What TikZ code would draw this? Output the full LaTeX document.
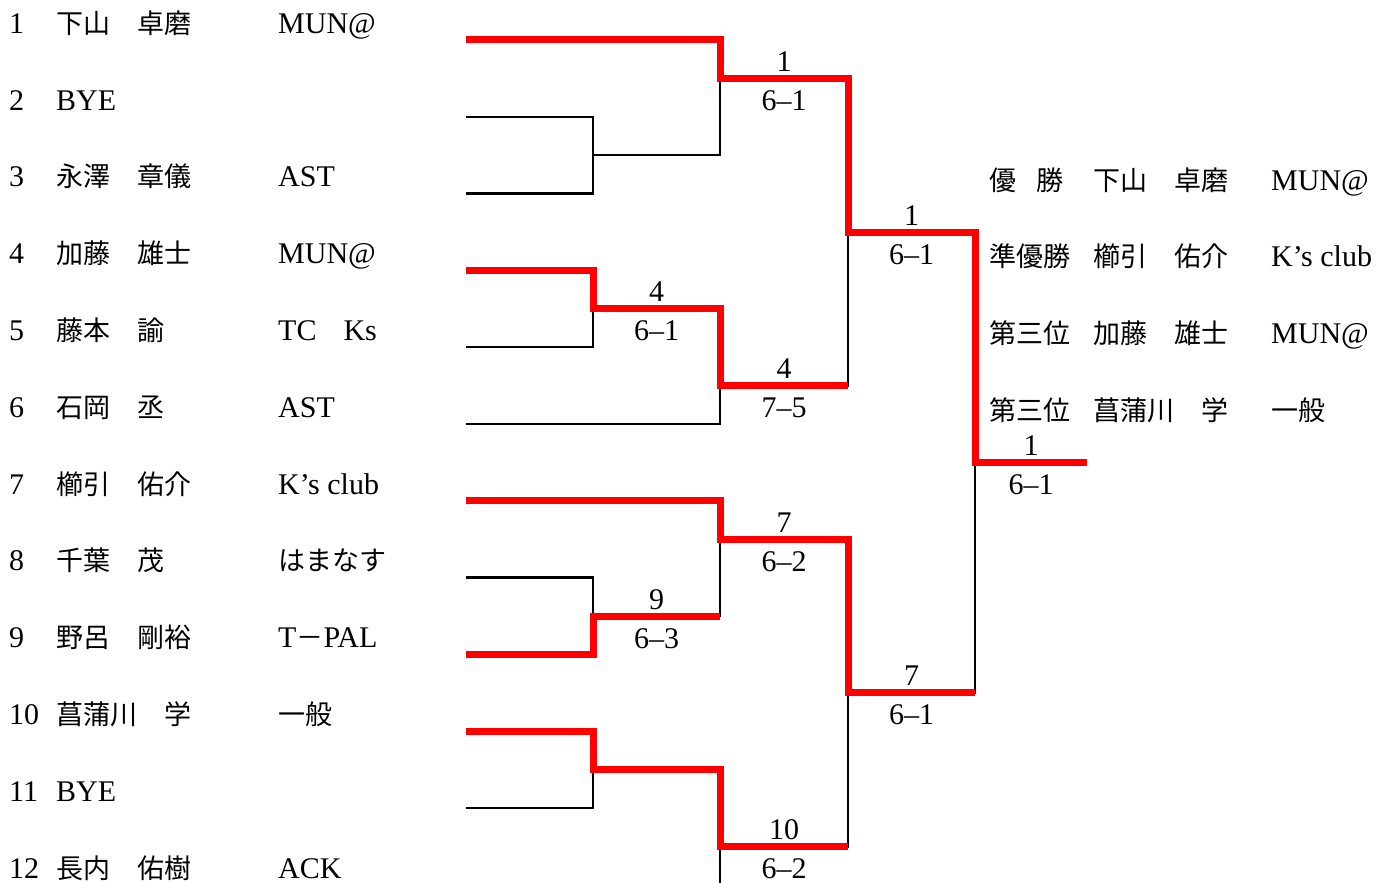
\documentclass[tikz,border=0pt]{standalone}
\usepackage{fontspec}
\setmainfont{Liberation Serif}
\newfontfamily\jafont{Noto Sans CJK JP}
\newcommand\ja[1]{{\jafont\fontsize{27}{30}\selectfont #1}}
\begin{document}
\begin{tikzpicture}[x=1pt,y=-1pt,font=\fontsize{30}{32}\selectfont,
  txt/.style={anchor=base west,inner sep=0pt},
  sc/.style={anchor=base,inner sep=0pt},
  wire/.style={black,line width=2.4pt},
  win/.style={red,line width=7pt,line join=miter}]
\useasboundingbox (0,0) rectangle (1379,883);
\clip (0,0) rectangle (1379,883);
% player rows
\foreach \k/\nm/\cl [evaluate=\k as \yb using {33.3+(\k-1)*76.8}] in {
  1/\ja{下山　卓磨}/MUN@,
  2/BYE/{},
  3/\ja{永澤　章儀}/AST,
  4/\ja{加藤　雄士}/MUN@,
  5/\ja{藤本　諭}/TC\ja{　}Ks,
  6/\ja{石岡　丞}/AST,
  7/\ja{櫛引　佑介}/K’s club,
  8/\ja{千葉　茂}/\ja{はまなす},
  9/\ja{野呂　剛裕}/T\ja{－}PAL,
  10/\ja{菖蒲川　学}/\ja{一般},
  11/BYE/{},
  12/\ja{長内　佑樹}/ACK}{
  \node[txt] (n\k) at (9,\yb) {\k};
  \node[txt] (p\k) at (56,\yb) {\nm};
  \node[txt] (c\k) at (278,\yb) {\cl};
}
% result table
\foreach \k/\tt/\nm/\cl [evaluate=\k as \yb using {190+(\k-1)*76.8}] in {
  1/\ja{優\hspace{0.75em}勝}/\ja{下山　卓磨}/MUN@,
  2/\ja{準優勝}/\ja{櫛引　佑介}/K’s club,
  3/\ja{第三位}/\ja{加藤　雄士}/MUN@,
  4/\ja{第三位}/\ja{菖蒲川　学}/\ja{一般}}{
  \node[txt] (rt\k) at (989,\yb) {\tt};
  \node[txt] (rn\k) at (1093,\yb) {\nm};
  \node[txt] (rc\k) at (1271,\yb) {\cl};
}
% entry lines
\coordinate (s1) at (466,40);
\coordinate (s2) at (466,116.8);
\coordinate (s3) at (466,193.6);
\coordinate (s4) at (466,270.4);
\coordinate (s5) at (466,347.2);
\coordinate (s6) at (466,424);
\coordinate (s7) at (466,500.8);
\coordinate (s8) at (466,577.6);
\coordinate (s9) at (466,654.4);
\coordinate (s10) at (466,731.2);
\coordinate (s11) at (466,808);
\coordinate (s12) at (466,884.8);
% match junctions
\coordinate (A) at (593,155.2);
\coordinate (B) at (720,78.4);
\coordinate (C) at (593,308.8);
\coordinate (D) at (720,385.6);
\coordinate (E) at (848,232);
\coordinate (F) at (593,616);
\coordinate (G) at (720,539.2);
\coordinate (H) at (593,769.6);
\coordinate (I) at (720,846.4);
\coordinate (J) at (848,692.8);
\coordinate (K) at (975,462.4);
\coordinate (W) at (1087,462.4);
% bracket
\draw[wire] (s2) -| (A); \draw[wire] (s3) -| (A);
\draw[wire] (s1) -| (B); \draw[wire] (A) -| (B);
\draw[wire] (s4) -| (C); \draw[wire] (s5) -| (C);
\draw[wire] (C) -| (D); \draw[wire] (s6) -| (D);
\draw[wire] (B) -| (E); \draw[wire] (D) -| (E);
\draw[wire] (s8) -| (F); \draw[wire] (s9) -| (F);
\draw[wire] (s7) -| (G); \draw[wire] (F) -| (G);
\draw[wire] (s10) -| (H); \draw[wire] (s11) -| (H);
\draw[wire] (H) -| (I); \draw[wire] (s12) -| (I);
\draw[wire] (G) -| (J); \draw[wire] (I) -| (J);
\draw[wire] (E) -| (K); \draw[wire] (J) -| (K);
\draw[wire] (K) -- (W);
% winners
\draw[win] (s1) -| (B) -| (E) -| (K) -- (W);
\draw[win] (s4) -| (C) -| (D) -- (D -| E);
\draw[win] (s7) -| (G) -| (J) -- (J -| K);
\draw[win] (s9) -| (F) -- (F -| G);
\draw[win] (s10) -| (H) -| (I) -- (I -| J);
% scores
\foreach \nm/\x/\y/\w/\s in {
  B/784/78.4/1/6–1, C/656.5/308.8/4/6–1, D/784/385.6/4/7–5,
  E/911.5/232/1/6–1, F/656.5/616/9/6–3, G/784/539.2/7/6–2,
  I/784/846.4/10/6–2, J/911.5/692.8/7/6–1, K/1031/462.4/1/6–1}{
  \node[sc] (w\nm) at (\x,\y-7) {\w};
  \node[sc] (r\nm) at (\x,\y+32) {\s};
}
\end{tikzpicture}
\end{document}
